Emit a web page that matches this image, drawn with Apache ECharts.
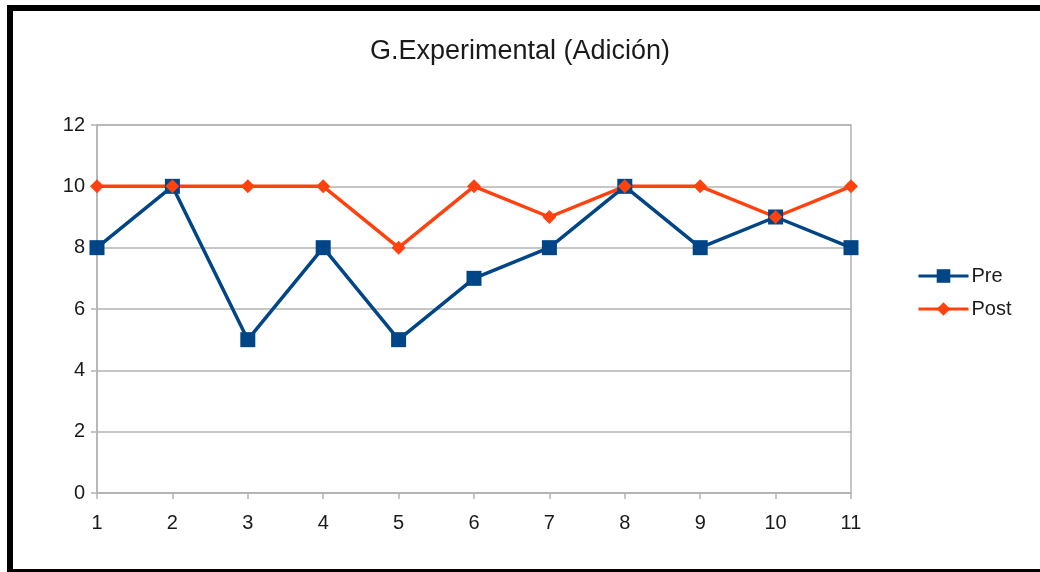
<!DOCTYPE html>
<html><head><meta charset="utf-8">
<script src="https://cdn.jsdelivr.net/npm/echarts@6/dist/echarts.min.js"></script>
<style>html,body{margin:0;padding:0;background:#fff}#c{width:1040px;height:572px}</style>
</head><body><div id="c"></div>
<script>
const categories = ['1','2','3','4','5','6','7','8','9','10','11'];
const preValues = [8,10,5,8,5,7,8,10,8,9,8];
const postValues = [10,10,10,10,8,10,9,10,10,9,10];
const seriesNames = ['Pre','Post'];
const titleText = 'G.Experimental (Adición)';

const font = '"Liberation Sans", Arial, sans-serif';
const chart = echarts.init(document.getElementById('c'), null, {renderer:'canvas'});
chart.setOption({
  animation:false,
  backgroundColor:'#fff',
  title:{text:titleText,left:'center',top:33,textStyle:{fontFamily:font,fontSize:27,fontWeight:'normal',color:'#1a1a1a',letterSpacing:-0.5}},
  grid:{left:97,right:189,top:125,bottom:79,show:true,borderColor:'#b3b3b3',borderWidth:1.5,backgroundColor:'transparent'},
  legend:{orient:'vertical',left:912,top:261,itemWidth:50,itemHeight:17,itemGap:13,
    lineStyle:{width:3},
    textStyle:{fontFamily:font,fontSize:20,color:'#1a1a1a',padding:[0,0,0,-2]},
    data:['Pre','Post']},
  xAxis:{type:'category',data:categories,boundaryGap:false,
    axisLine:{lineStyle:{color:'#b3b3b3',width:1.5}},
    axisTick:{show:true,alignWithLabel:true,length:6,lineStyle:{color:'#b3b3b3',width:1.5}},
    axisLabel:{fontFamily:font,fontSize:20,color:'#1a1a1a',margin:20},
    splitLine:{show:false}},
  yAxis:{type:'value',min:0,max:12,interval:2,
    axisLine:{show:true,lineStyle:{color:'#b3b3b3',width:1.5}},
    axisTick:{show:true,length:6,lineStyle:{color:'#b3b3b3',width:1.5}},
    axisLabel:{fontFamily:font,fontSize:20,color:'#1a1a1a',margin:12},
    splitLine:{show:true,lineStyle:{color:'#b3b3b3',width:1.5}}},
  series:[
    {name:seriesNames[0],type:'line',data:preValues,symbol:'rect',symbolSize:15,
     lineStyle:{color:'#004586',width:3.5},itemStyle:{color:'#004586'}},
    {name:seriesNames[1],type:'line',data:postValues,symbol:'diamond',symbolSize:[14,14],
     lineStyle:{color:'#ff420e',width:3.5},itemStyle:{color:'#ff420e'}}
  ],
  graphic:[
    {type:'rect',shape:{x:7,y:5,width:1033,height:6},style:{fill:'#000'},silent:true},
    {type:'rect',shape:{x:7,y:5,width:6,height:567},style:{fill:'#000'},silent:true},
    {type:'rect',shape:{x:7,y:569,width:1033,height:3},style:{fill:'#000'},silent:true}
  ]
});
</script></body></html>
